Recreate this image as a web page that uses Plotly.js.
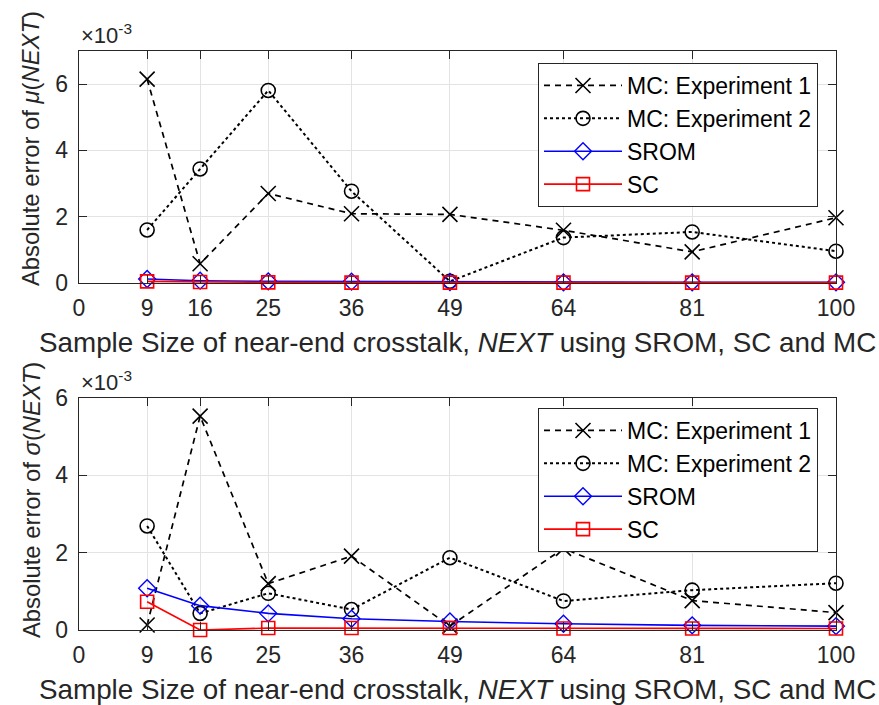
<!DOCTYPE html>
<html>
<head>
<meta charset="utf-8">
<script src="https://cdn.plot.ly/plotly-3.0.1.min.js"></script>
<style>html,body{margin:0;padding:0;background:#fff;}#chart{width:879px;height:705px;}</style>
</head>
<body>
<div id="chart"></div>
<script>
// Sample sizes (x values)
var sampleSizes = [9, 16, 25, 36, 49, 64, 81, 100];
var xTickVals = [0, 9, 16, 25, 36, 49, 64, 81, 100];
var xTickText = ["0", "9", "16", "25", "36", "49", "64", "81", "100"];
var yTickVals = [0, 2, 4, 6];
var yTickText = ["0", "2", "4", "6"];
var seriesNames = ["MC: Experiment 1", "MC: Experiment 2", "SROM", "SC"];

// Absolute error of mu(NEXT), units of 1e-3
var muMC1  = [6.15, 0.58, 2.70, 2.09, 2.07, 1.59, 0.94, 1.97];
var muMC2  = [1.60, 3.44, 5.81, 2.77, 0.05, 1.37, 1.54, 0.96];
var muSROM = [0.12, 0.07, 0.05, 0.04, 0.03, 0.02, 0.02, 0.02];
var muSC   = [0.05, 0.03, 0.02, 0.01, 0.01, 0.01, 0.01, 0.01];

// Absolute error of sigma(NEXT), units of 1e-3
var sdMC1  = [0.13, 5.53, 1.20, 1.91, 0.10, 2.11, 0.76, 0.45];
var sdMC2  = [2.69, 0.43, 0.95, 0.53, 1.87, 0.75, 1.03, 1.21];
var sdSROM = [1.08, 0.63, 0.43, 0.29, 0.22, 0.16, 0.12, 0.10];
var sdSC   = [0.73, 0.00, 0.05, 0.05, 0.05, 0.04, 0.04, 0.04];

var FONT = "'Liberation Sans', Arial, Helvetica, sans-serif";
var TXT = "#262626";

function mk(yv, idx, xa, ya, leg) {
  var styles = [
    {line: {color: "#000", width: 1.7, dash: "6px,5px"}, marker: {symbol: "x-thin-open", size: 15, color: "#000", line: {color: "#000", width: 1.6}}},
    {line: {color: "#000", width: 2, dash: "dot"}, marker: {symbol: "circle-open", size: 14, color: "#000", line: {color: "#000", width: 1.6}}},
    {line: {color: "#0000ff", width: 1.6}, marker: {symbol: "diamond-open", size: 13, color: "#0000ff", line: {color: "#0000ff", width: 1.4}}},
    {line: {color: "#ff0000", width: 1.6}, marker: {symbol: "square-open", size: 13, color: "#ff0000", line: {color: "#ff0000", width: 1.6}}}
  ];
  return {
    x: sampleSizes, y: yv, type: "scatter", mode: "lines+markers",
    name: seriesNames[idx], xaxis: xa, yaxis: ya, legend: leg, showlegend: true,
    line: styles[idx].line, marker: styles[idx].marker, cliponaxis: false
  };
}

var data = [
  mk(muMC1, 0, "x", "y", "legend"),
  mk(muMC2, 1, "x", "y", "legend"),
  mk(muSROM, 2, "x", "y", "legend"),
  mk(muSC, 3, "x", "y", "legend"),
  mk(sdMC1, 0, "x2", "y2", "legend2"),
  mk(sdMC2, 1, "x2", "y2", "legend2"),
  mk(sdSROM, 2, "x2", "y2", "legend2"),
  mk(sdSC, 3, "x2", "y2", "legend2")
];

var W = 879, H = 705;
var xDom = [79 / W, 836 / W];
function yd(top, bot) { return [1 - bot / H, 1 - top / H]; }

function xaxis(anchor) {
  return {
    domain: xDom, anchor: anchor, range: [0, 100], tickmode: "array",
    tickvals: xTickVals, ticktext: xTickText, ticks: "inside", ticklen: 8,
    tickcolor: TXT, tickwidth: 1, showline: true, linecolor: TXT, linewidth: 1.3,
    mirror: "ticks", showgrid: true, gridcolor: "#e3e3e3", gridwidth: 1,
    zeroline: false, tickfont: {family: FONT, size: 23, color: TXT},
    ticklabelstandoff: 4, automargin: false
  };
}
function yaxis(anchor, dom, rng) {
  return {
    domain: dom, anchor: anchor, range: rng, tickmode: "array",
    tickvals: yTickVals, ticktext: yTickText, ticks: "inside", ticklen: 8,
    tickcolor: TXT, tickwidth: 1, showline: true, linecolor: TXT, linewidth: 1.3,
    mirror: "ticks", showgrid: true, gridcolor: "#e3e3e3", gridwidth: 1,
    zeroline: false, tickfont: {family: FONT, size: 23, color: TXT},
    ticklabelstandoff: 5, automargin: false
  };
}

function legendCfg(topPx) {
  return {
    x: 538 / W, xanchor: "left", y: 1 - topPx / H, yanchor: "top",
    bgcolor: "#fff", bordercolor: TXT, borderwidth: 1,
    font: {family: FONT, size: 23, color: "#000"}, itemwidth: 78,
    tracegroupgap: 0
  };
}

var layout = {
  width: W, height: H,
  margin: {l: 0, r: 0, t: 0, b: 0},
  paper_bgcolor: "#fff", plot_bgcolor: "#fff",
  font: {family: FONT, color: TXT},
  showlegend: true,
  xaxis: xaxis("y"),
  yaxis: yaxis("x", yd(51, 283), [0, 7]),
  xaxis2: xaxis("y2"),
  yaxis2: yaxis("x2", yd(398, 630), [0, 6]),
  legend: legendCfg(63),
  legend2: legendCfg(408),
  annotations: [
    {text: "×10<sup>-3</sup>", xref: "paper", yref: "paper", x: 79 / W, y: 1 - 50 / H, xanchor: "left", yanchor: "bottom", showarrow: false, font: {family: FONT, size: 22, color: TXT}},
    {text: "×10<sup>-3</sup>", xref: "paper", yref: "paper", x: 79 / W, y: 1 - 397 / H, xanchor: "left", yanchor: "bottom", showarrow: false, font: {family: FONT, size: 22, color: TXT}},
    {text: "Absolute error of <i>μ</i>(<i>NEXT</i>)", xref: "paper", yref: "paper", x: 31 / W, y: 1 - 149 / H, xanchor: "center", yanchor: "middle", textangle: -90, showarrow: false, font: {family: FONT, size: 23.8, color: TXT}},
    {text: "Absolute error of <i>σ</i>(<i>NEXT</i>)", xref: "paper", yref: "paper", x: 31 / W, y: 1 - 500 / H, xanchor: "center", yanchor: "middle", textangle: -90, showarrow: false, font: {family: FONT, size: 23.8, color: TXT}},
    {text: "Sample Size of near-end crosstalk, <i>NEXT</i> using SROM, SC and MC", xref: "paper", yref: "paper", x: 457.5 / W, y: 1 - 343 / H, xanchor: "center", yanchor: "middle", showarrow: false, font: {family: FONT, size: 27.8, color: TXT}},
    {text: "Sample Size of near-end crosstalk, <i>NEXT</i> using SROM, SC and MC", xref: "paper", yref: "paper", x: 457.5 / W, y: 1 - 689 / H, xanchor: "center", yanchor: "middle", showarrow: false, font: {family: FONT, size: 27.8, color: TXT}}
  ]
};

Plotly.newPlot("chart", data, layout, {displayModeBar: false, staticPlot: true});
</script>
</body>
</html>
